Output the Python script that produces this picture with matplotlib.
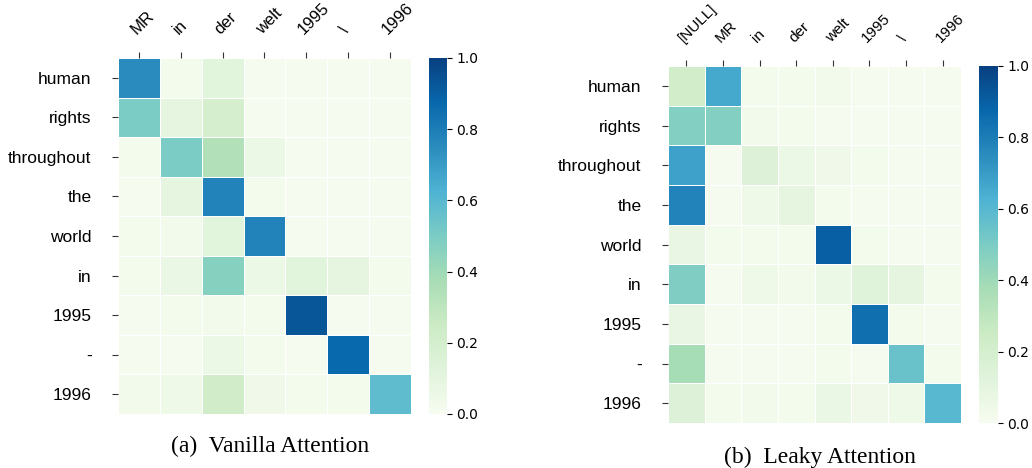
import numpy as np
import matplotlib
matplotlib.use("Agg")
import matplotlib.pyplot as plt

# source words (rows) and target words (columns)
rows = ['human', 'rights', 'throughout', 'the', 'world', 'in', '1995', '-', '1996']
cols_a = ['MR', 'in', 'der', 'welt', '1995', '\\', '1996']
cols_b = ['[NULL]', 'MR', 'in', 'der', 'welt', '1995', '\\', '1996']

# attention weights
vanilla = [
    [0.75, 0.02, 0.12, 0.01, 0.01, 0.01, 0.01],
    [0.50, 0.10, 0.20, 0.01, 0.01, 0.01, 0.01],
    [0.02, 0.50, 0.34, 0.06, 0.01, 0.01, 0.01],
    [0.01, 0.10, 0.78, 0.02, 0.01, 0.01, 0.01],
    [0.02, 0.03, 0.12, 0.78, 0.01, 0.01, 0.01],
    [0.02, 0.07, 0.47, 0.06, 0.12, 0.10, 0.02],
    [0.01, 0.02, 0.03, 0.02, 0.93, 0.01, 0.01],
    [0.01, 0.01, 0.06, 0.02, 0.01, 0.87, 0.01],
    [0.03, 0.05, 0.23, 0.04, 0.02, 0.02, 0.58],
]
leaky = [
    [0.22, 0.66, 0.02, 0.02, 0.03, 0.01, 0.01, 0.01],
    [0.48, 0.48, 0.03, 0.02, 0.01, 0.01, 0.01, 0.01],
    [0.68, 0.01, 0.15, 0.06, 0.04, 0.02, 0.01, 0.01],
    [0.78, 0.01, 0.05, 0.10, 0.02, 0.01, 0.01, 0.01],
    [0.08, 0.02, 0.02, 0.02, 0.90, 0.02, 0.01, 0.01],
    [0.49, 0.01, 0.05, 0.03, 0.06, 0.13, 0.10, 0.02],
    [0.08, 0.01, 0.01, 0.01, 0.02, 0.85, 0.02, 0.01],
    [0.38, 0.01, 0.01, 0.01, 0.02, 0.01, 0.55, 0.02],
    [0.15, 0.02, 0.03, 0.02, 0.07, 0.04, 0.05, 0.60],
]

fig = plt.figure(figsize=(10.32, 4.68), dpi=100)


def draw(ax_rect, cb_rect, data, cols, caption, cap_y, xsize):
    ax = fig.add_axes(ax_rect)
    cax = fig.add_axes(cb_rect)
    data = np.array(data)
    m = ax.pcolormesh(data, cmap='GnBu', vmin=0, vmax=1,
                      edgecolor='white', linewidth=0.6)
    ax.set_xlim(0, data.shape[1])
    ax.set_ylim(data.shape[0], 0)
    for s in ax.spines.values():
        s.set_visible(False)
    ax.xaxis.tick_top()
    ax.set_xticks(np.arange(len(cols)) + 0.5)
    ax.set_xticklabels(cols, rotation=45, ha='left', rotation_mode='anchor',
                       family='Liberation Sans', fontsize=xsize)
    ax.set_yticks(np.arange(len(rows)) + 0.5)
    ax.set_yticklabels(rows, family='Liberation Sans', fontsize=12.5)
    ax.tick_params(axis='both', length=4, width=0.8, color='#333333')
    ax.tick_params(axis='x', pad=11)
    ax.tick_params(axis='y', pad=15)
    cb = fig.colorbar(m, cax=cax, ticks=[0, 0.2, 0.4, 0.6, 0.8, 1.0])
    cb.outline.set_visible(False)
    cb.ax.tick_params(labelsize=10, length=3.5, pad=3)
    fig.text(ax_rect[0] + ax_rect[2] / 2 + 0.005, cap_y, caption,
             ha='center', va='center', family='Liberation Serif', fontsize=17)


draw([0.1143, 0.1154, 0.2839, 0.7607], [0.4157, 0.1154, 0.0174, 0.7607],
     vanilla, cols_a, '(a)  Vanilla Attention', 0.045, 12)
draw([0.6473, 0.096, 0.2839, 0.763], [0.9486, 0.096, 0.0184, 0.763],
     leaky, cols_b, '(b)  Leaky Attention', 0.0235, 11)

fig.savefig('out.png', dpi=100)
